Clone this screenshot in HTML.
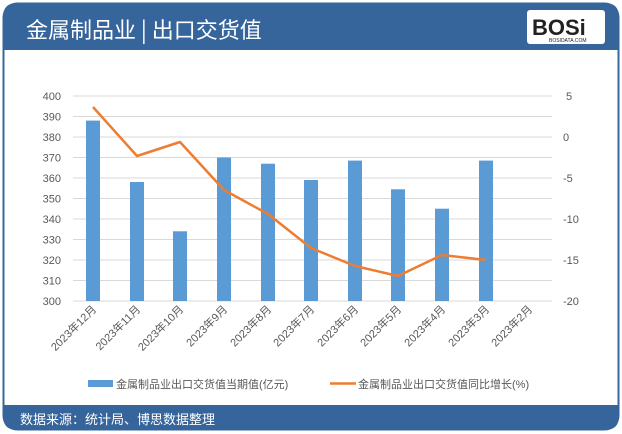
<!DOCTYPE html><html><head><meta charset="utf-8"><style>
body{margin:0;width:622px;height:434px;background:#fff;overflow:hidden;font-family:"Liberation Sans","Noto Sans CJK SC",sans-serif}
</style></head><body>
<svg width="622" height="434" xmlns="http://www.w3.org/2000/svg" style="position:absolute;left:0;top:0">
<rect x="3.5" y="3.5" width="615" height="426" rx="14" fill="#fff" stroke="#3a679b" stroke-width="2"/>
<path d="M3,50 V17 Q3,3 17,3 H605 Q619,3 619,17 V50 Z" fill="#36659b"/>
<text x="26" y="38" font-size="22" fill="#fff" font-family="Noto Sans CJK SC,sans-serif">金属制品业 | 出口交货值</text>
<rect x="527" y="10" width="78" height="34" rx="3" fill="#fff"/>
<text x="532" y="35" font-size="22" font-weight="bold" fill="#222" font-family="Liberation Sans,sans-serif">BOSi</text>
<text x="549" y="42" font-size="5" fill="#222">BOSIDATA.COM</text>
<path d="M3,405 H619 V416 Q619,430 605,430 H17 Q3,430 3,416 Z" fill="#36659b"/>
<text x="20" y="424" font-size="13" fill="#fff" font-family="Noto Sans CJK SC,sans-serif">数据来源：统计局、博思数据整理</text>
<g stroke="#d9d9d9" stroke-width="1">
<line x1="73" x2="552" y1="96" y2="96"/><line x1="73" x2="552" y1="116.5" y2="116.5"/><line x1="73" x2="552" y1="137" y2="137"/><line x1="73" x2="552" y1="157.5" y2="157.5"/><line x1="73" x2="552" y1="178" y2="178"/><line x1="73" x2="552" y1="198.5" y2="198.5"/><line x1="73" x2="552" y1="219" y2="219"/><line x1="73" x2="552" y1="239.5" y2="239.5"/><line x1="73" x2="552" y1="260" y2="260"/><line x1="73" x2="552" y1="280.5" y2="280.5"/><line x1="73" x2="552" y1="301" y2="301"/>
</g>
<g font-size="11" fill="#595959" text-anchor="end">
<text x="61" y="100">400</text><text x="61" y="120.5">390</text><text x="61" y="141">380</text><text x="61" y="161.5">370</text><text x="61" y="182">360</text><text x="61" y="202.5">350</text><text x="61" y="223">340</text><text x="61" y="243.5">330</text><text x="61" y="264">320</text><text x="61" y="284.5">310</text><text x="61" y="305">300</text>
</g>
<g font-size="11" fill="#595959" text-anchor="start">
<text x="566" y="100">5</text><text x="563" y="141">0</text><text x="563" y="182">-5</text><text x="563" y="223">-10</text><text x="563" y="264">-15</text><text x="563" y="305">-20</text>
</g>
<g fill="#5b9bd5">
<rect x="86" y="120.6" width="14" height="180.4"/>
<rect x="130" y="182" width="14" height="119"/>
<rect x="173" y="231.3" width="14" height="69.7"/>
<rect x="217" y="157.5" width="14" height="143.5"/>
<rect x="261" y="163.7" width="14" height="137.3"/>
<rect x="304" y="180" width="14" height="121"/>
<rect x="348" y="160.6" width="14" height="140.4"/>
<rect x="391" y="189.3" width="14" height="111.7"/>
<rect x="435" y="208.7" width="14" height="92.3"/>
<rect x="479" y="160.6" width="14" height="140.4"/>
</g>
<polyline fill="none" stroke="#ed7d31" stroke-width="2.5" stroke-linejoin="round" points="93,107 137,156 180,142 224,190 268,214 311,248 355,266 398,276 442,255 486,260"/>
<g font-size="11" fill="#595959" text-anchor="end" font-family="Liberation Sans,Noto Sans CJK SC,sans-serif">
<text transform="translate(97,310) rotate(-45)">2023年12月</text>
<text transform="translate(141,310) rotate(-45)">2023年11月</text>
<text transform="translate(184,310) rotate(-45)">2023年10月</text>
<text transform="translate(228,310) rotate(-45)">2023年9月</text>
<text transform="translate(272,310) rotate(-45)">2023年8月</text>
<text transform="translate(315,310) rotate(-45)">2023年7月</text>
<text transform="translate(359,310) rotate(-45)">2023年6月</text>
<text transform="translate(402,310) rotate(-45)">2023年5月</text>
<text transform="translate(446,310) rotate(-45)">2023年4月</text>
<text transform="translate(490,310) rotate(-45)">2023年3月</text>
<text transform="translate(533,310) rotate(-45)">2023年2月</text>
</g>
<rect x="88" y="380" width="25" height="7" fill="#5b9bd5"/>
<text x="116" y="388" font-size="11" fill="#595959">金属制品业出口交货值当期值(亿元)</text>
<line x1="330" x2="356" y1="383.5" y2="383.5" stroke="#ed7d31" stroke-width="2.5"/>
<text x="358" y="388" font-size="11" fill="#595959">金属制品业出口交货值同比增长(%)</text>
</svg>
</body></html>
